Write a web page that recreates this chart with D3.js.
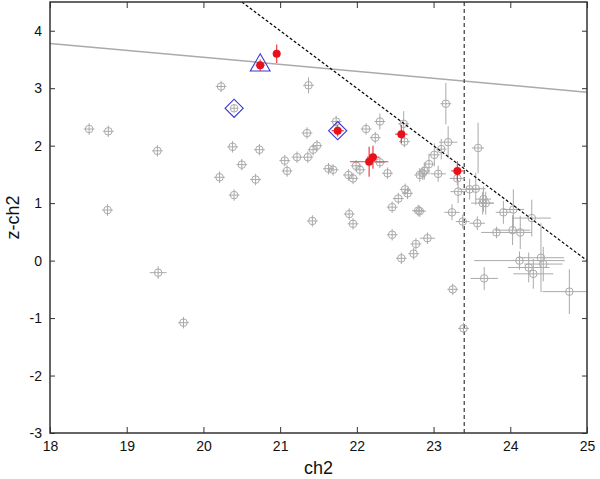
<!DOCTYPE html>
<html>
<head>
<meta charset="utf-8">
<script src="https://cdn.jsdelivr.net/npm/d3@7"></script>
<style>
  body { margin: 0; background: #fff; }
  svg { display: block; font-family: "Liberation Sans", Arial, sans-serif; }
</style>
</head>
<body>
<div id="chart"></div>
<script>
// axis ticks
const xTicks = [18, 19, 20, 21, 22, 23, 24, 25];
const yTicks = [-3, -2, -1, 0, 1, 2, 3, 4];

// gray sample: [ch2, z-ch2, x error, y error]
const grayPoints = [
  [18.51, 2.29, 0.07, 0.1], [18.76, 2.25, 0.07, 0.1], [18.75, 0.88, 0.07, 0.1],
  [19.40, 1.91, 0.07, 0.1], [19.41, -0.21, 0.11, 0.11], [19.74, -1.08, 0.07, 0.1],
  [20.21, 1.45, 0.07, 0.1], [20.23, 3.03, 0.07, 0.1], [20.38, 1.98, 0.07, 0.1],
  [20.40, 1.14, 0.07, 0.1], [20.50, 1.67, 0.07, 0.1], [20.68, 1.41, 0.07, 0.1],
  [20.73, 1.93, 0.07, 0.1], [20.40, 2.65, 0.05, 0.07], [21.06, 1.74, 0.07, 0.1],
  [21.09, 1.56, 0.07, 0.1], [21.22, 1.80, 0.07, 0.1], [21.36, 1.80, 0.07, 0.1],
  [21.37, 3.05, 0.07, 0.14], [21.35, 2.22, 0.07, 0.1], [21.43, 1.93, 0.07, 0.1],
  [21.48, 2.00, 0.07, 0.1], [21.42, 0.69, 0.07, 0.1], [21.63, 1.60, 0.07, 0.1],
  [21.69, 1.58, 0.07, 0.1], [21.73, 2.42, 0.07, 0.1], [21.89, 1.49, 0.07, 0.1],
  [21.95, 1.43, 0.07, 0.1], [21.99, 1.65, 0.07, 0.1], [22.04, 1.58, 0.07, 0.1],
  [21.90, 0.81, 0.07, 0.1], [21.95, 0.64, 0.07, 0.1], [22.12, 2.29, 0.07, 0.1],
  [22.24, 2.14, 0.07, 0.1], [22.30, 2.42, 0.07, 0.14], [22.30, 1.71, 0.07, 0.1],
  [22.40, 1.52, 0.07, 0.1], [22.61, 2.38, 0.07, 0.22], [22.62, 2.07, 0.07, 0.1],
  [22.63, 1.24, 0.07, 0.1], [22.66, 1.17, 0.07, 0.1], [22.54, 1.08, 0.07, 0.1],
  [22.46, 0.93, 0.07, 0.1], [22.80, 0.87, 0.08, 0.1], [22.82, 0.86, 0.08, 0.1],
  [22.46, 0.45, 0.07, 0.1], [22.92, 0.39, 0.1, 0.1], [22.77, 0.29, 0.07, 0.1],
  [22.74, 0.12, 0.07, 0.1], [22.58, 0.04, 0.07, 0.1], [22.82, 1.49, 0.07, 0.12],
  [22.86, 1.52, 0.07, 0.12], [22.88, 1.56, 0.07, 0.15], [22.94, 1.68, 0.07, 0.18],
  [23.01, 1.84, 0.07, 0.2], [23.10, 1.94, 0.07, 0.18], [23.06, 1.51, 0.1, 0.14],
  [23.16, 2.73, 0.07, 0.36], [23.19, 2.06, 0.12, 0.28], [23.24, 0.84, 0.1, 0.14],
  [23.25, -0.50, 0.07, 0.1], [23.31, 1.43, 0.1, 0.12], [23.32, 1.20, 0.1, 0.2],
  [23.38, 0.68, 0.09, 0.12], [23.39, -1.18, 0.07, 0.1], [23.47, 1.24, 0.13, 0.18],
  [23.55, 1.25, 0.13, 0.28], [23.57, 0.65, 0.1, 0.12], [23.58, 1.96, 0.08, 0.44],
  [23.64, 1.00, 0.15, 0.2], [23.65, 1.07, 0.1, 0.22], [23.68, 1.00, 0.1, 0.2],
  [23.66, -0.31, 0.18, 0.2], [23.82, 0.49, 0.2, 0.1], [23.91, 0.84, 0.1, 0.2],
  [24.03, 0.53, 0.23, 0.26], [24.04, 0.89, 0.14, 0.35], [24.13, 0.49, 0.15, 0.29],
  [24.12, 0.00, 0.59, 0.16], [24.24, -0.12, 0.27, 0.26], [24.28, 0.74, 0.25, 0.32],
  [24.30, -0.23, 0.26, 0.26], [24.40, 0.05, 0.3, 0.6], [24.43, -0.06, 0.25, 0.3],
  [24.77, -0.54, 0.35, 0.39]
];

// red sample: [ch2, z-ch2, x error, y error]
const redPoints = [
  [20.955, 3.60, 0.05, 0.16], [20.74, 3.40, 0.06, 0.1], [21.75, 2.26, 0.08, 0.1],
  [22.58, 2.20, 0.08, 0.16], [22.21, 1.80, 0.08, 0.2], [22.16, 1.72, 0.25, 0.26],
  [23.31, 1.56, 0.08, 0.17]
];

// blue markers
const diamondPoints = [[20.40, 2.65], [21.75, 2.26]];
const trianglePoints = [[20.74, 3.40]];

// lines
const relationLine = [[18, 3.78], [25, 2.93]];
const cutLine = [[20.5, 4.5], [25, 0]];
const magLimit = 23.4;

const width = 600, height = 479;
const margin = { top: 2, right: 13, bottom: 46, left: 50 };

const svg = d3.select('#chart').append('svg')
  .attr('width', width)
  .attr('height', height);

const x = d3.scaleLinear().domain([18, 25]).range([margin.left, width - margin.right]);
const y = d3.scaleLinear().domain([-3, 4.5]).range([height - margin.bottom, margin.top]);

const plot = svg.append('g');
svg.append('clipPath').attr('id', 'clip').append('rect')
  .attr('x', x(18)).attr('y', y(4.5))
  .attr('width', x(25) - x(18)).attr('height', y(-3) - y(4.5));
const inner = plot.append('g').attr('clip-path', 'url(#clip)');

const line = d3.line().x(d => x(d[0])).y(d => y(d[1]));

// gray relation
inner.append('path').datum(relationLine)
  .attr('d', line).attr('fill', 'none')
  .attr('stroke', '#aaa').attr('stroke-width', 1.5);

// vertical limit
inner.append('line')
  .attr('x1', x(magLimit)).attr('x2', x(magLimit))
  .attr('y1', y(-3)).attr('y2', y(4.5))
  .attr('stroke', '#555').attr('stroke-width', 1.4)
  .attr('stroke-dasharray', '4,3');

// gray points with error bars
const gray = inner.append('g').attr('stroke', '#aaa').attr('fill', 'none').attr('stroke-width', 1);
grayPoints.forEach(d => {
  const g = gray.append('g');
  g.append('line')
    .attr('x1', x(d[0] - d[2])).attr('x2', x(d[0] + d[2]))
    .attr('y1', y(d[1])).attr('y2', y(d[1]));
  g.append('line')
    .attr('x1', x(d[0])).attr('x2', x(d[0]))
    .attr('y1', y(d[1] - d[3])).attr('y2', y(d[1] + d[3]));
  g.append('circle').attr('cx', x(d[0])).attr('cy', y(d[1])).attr('r', 3.8);
});

// cut line
inner.append('path').datum(cutLine)
  .attr('d', line).attr('fill', 'none')
  .attr('stroke', '#000').attr('stroke-width', 1.2)
  .attr('stroke-dasharray', '3,2');

// red points
const red = inner.append('g');
redPoints.forEach(d => {
  red.append('line')
    .attr('x1', x(d[0] - d[2])).attr('x2', x(d[0] + d[2]))
    .attr('y1', y(d[1])).attr('y2', y(d[1]))
    .attr('stroke', '#e84040').attr('stroke-width', 1.2);
  red.append('line')
    .attr('x1', x(d[0])).attr('x2', x(d[0]))
    .attr('y1', y(d[1] - d[3])).attr('y2', y(d[1] + d[3]))
    .attr('stroke', '#e84040').attr('stroke-width', 1.2);
});
red.selectAll('circle').data(redPoints).enter().append('circle')
  .attr('cx', d => x(d[0])).attr('cy', d => y(d[1])).attr('r', 4)
  .attr('fill', '#e8101a');

// blue markers
inner.selectAll('.diamond').data(diamondPoints).enter().append('path')
  .attr('class', 'diamond')
  .attr('d', d3.symbol().type(d3.symbolSquare).size(165))
  .attr('transform', d => `translate(${x(d[0])},${y(d[1])}) rotate(45)`)
  .attr('fill', 'none').attr('stroke', '#3a3acc').attr('stroke-width', 1.1);

inner.selectAll('.triangle').data(trianglePoints).enter().append('path')
  .attr('class', 'triangle')
  .attr('d', d3.symbol().type(d3.symbolTriangle).size(170))
  .attr('transform', d => `translate(${x(d[0])},${y(d[1])})`)
  .attr('fill', 'none').attr('stroke', '#3a3acc').attr('stroke-width', 1.1);

// axes with inward ticks on all sides
const axisStyle = g => {
  g.select('.domain').remove();
  g.selectAll('.tick line').attr('stroke', '#333').attr('stroke-width', 1);
  g.selectAll('.tick text').attr('font-size', 14).attr('fill', '#111')
    .attr('font-family', '"Liberation Sans", Arial, sans-serif');
};
const plain = d => String(d);

svg.append('g').attr('transform', `translate(0,${y(-3)})`)
  .call(d3.axisBottom(x).tickValues(xTicks).tickSize(-6).tickPadding(8).tickFormat(plain))
  .call(axisStyle);
svg.append('g').attr('transform', `translate(0,${y(4.5)})`)
  .call(d3.axisTop(x).tickValues(xTicks).tickSize(-6).tickFormat(''))
  .call(axisStyle);
svg.append('g').attr('transform', `translate(${x(18)},0)`)
  .call(d3.axisLeft(y).tickValues(yTicks).tickSize(-5).tickPadding(8).tickFormat(plain))
  .call(axisStyle);
svg.append('g').attr('transform', `translate(${x(25)},0)`)
  .call(d3.axisRight(y).tickValues(yTicks).tickSize(-5).tickFormat(''))
  .call(axisStyle);

// frame
svg.append('rect')
  .attr('x', x(18)).attr('y', y(4.5))
  .attr('width', x(25) - x(18)).attr('height', y(-3) - y(4.5))
  .attr('fill', 'none').attr('stroke', '#333').attr('stroke-width', 1.5);

// axis titles
svg.append('text')
  .attr('x', (x(18) + x(25)) / 2).attr('y', 474)
  .attr('text-anchor', 'middle').attr('font-size', 18).attr('fill', '#111')
  .text('ch2');
svg.append('text')
  .attr('transform', `translate(19,${(y(-3) + y(4.5)) / 2}) rotate(-90)`)
  .attr('text-anchor', 'middle').attr('font-size', 18).attr('fill', '#111')
  .text('z-ch2');
</script>
</body>
</html>
